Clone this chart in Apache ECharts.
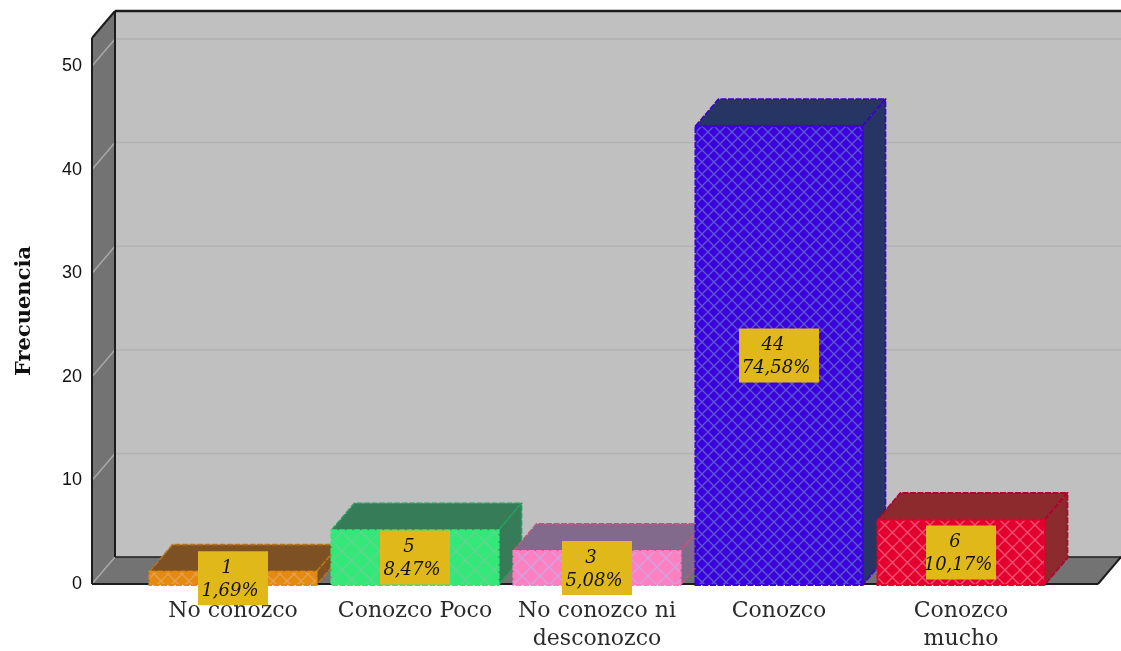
<!DOCTYPE html>
<html><head><meta charset="utf-8">
<style>html,body{margin:0;padding:0;background:#fff}#c{width:1121px;height:651px;filter:blur(0.45px)}</style>
<script src="https://cdn.jsdelivr.net/npm/echarts@6/dist/echarts.min.js"></script>
</head><body><div id="c"></div>
<script>
const categories = ['No conozco','Conozco Poco','No conozco ni\ndesconozco','Conozco','Conozco\nmucho'];
const frecuencias = [1,5,3,44,6];
const porcentajes = ['1,69%','8,47%','5,08%','74,58%','10,17%'];
const yTicks = [0,10,20,30,40,50];
const frontColors = ['#e38a10','#33e878','#ff80c0','#3c00e0','#e3002f'];
const hatchColors = ['#e8a050','#62d48e','#cfa2e0','#5a58c8','#ee5070'];
const edgeColors  = ['#b87418','#22a060','#b85a80','#3c00d0','#b00030'];
const topColors   = ['#7d5123','#377c58','#826a8c','#263563','#8c2a2e'];
const hatchPeriods = [14,19,18,12,15];
const labelBoxWidths = [70,70,70,80,70];

const DX = 23, DY = -27;      // depth of the 3D projection
const FRAME_L = 50, FRAME_R = 46; // frame overhang beyond the category band area
const BAR_RATIO = 0.918, BAR_LIFT = 2;

function hatch(bg, line, n){
  const t = document.createElement('canvas'); t.width = n; t.height = n;
  const g = t.getContext('2d');
  g.fillStyle = bg; g.fillRect(0,0,n,n);
  g.strokeStyle = line; g.lineWidth = 1.4;
  g.beginPath();
  g.moveTo(-1,-1); g.lineTo(n+1,n+1);
  g.moveTo(-1,n+1); g.lineTo(n+1,-1);
  g.stroke();
  return {image:t, repeat:'repeat'};
}
const fills = frontColors.map((c,i)=>hatch(c,hatchColors[i],hatchPeriods[i]));

function renderFrame(params, api){
  const cs = params.coordSys;
  const x0 = cs.x - FRAME_L, x1 = cs.x + cs.width + FRAME_R, yB = cs.y + cs.height, yT = cs.y;
  const poly = (pts,fill)=>({type:'polygon',shape:{points:pts},style:{fill,stroke:null}});
  const line = (a,b,stroke,w)=>({type:'line',shape:{x1:a[0],y1:a[1],x2:b[0],y2:b[1]},style:{stroke,lineWidth:w}});
  const ch = [];
  ch.push(poly([[x0+DX,yT+DY],[x1+DX,yT+DY],[x1+DX,yB+DY],[x0+DX,yB+DY]],'#c0c0c0'));
  ch.push(poly([[x0,yT],[x0+DX,yT+DY],[x0+DX,yB+DY],[x0,yB]],'#737373'));
  ch.push(poly([[x0,yB],[x0+DX,yB+DY],[x1+DX,yB+DY],[x1,yB]],'#737373'));
  yTicks.forEach(v=>{
    const y = api.coord([0,v])[1];
    if(v>0) ch.push(line([x0+DX,y+DY],[x1+DX,y+DY],'#b2b2b2',1.5));
    if(v>0) ch.push(line([x0,y],[x0+DX,y+DY],'#a8a8a8',1.5));
  });
  ch.push(line([x0,yB],[x0+DX,yB+DY],'#a8a8a8',1.5));
  const dark='#1c1c1c';
  ch.push(line([x0+DX,yB+DY],[x1+DX,yB+DY],dark,1.5));
  ch.push(line([x0+DX,yT+DY],[x1+DX,yT+DY],dark,2.5));
  ch.push(line([x0+DX,yT+DY],[x0+DX,yB+DY],dark,2));
  ch.push(line([x0,yT],[x0+DX,yT+DY],dark,2));
  ch.push(line([x0,yT],[x0,yB],dark,2));
  ch.push(line([x0,yB],[x1,yB],dark,2));
  ch.push(line([x1,yB],[x1+DX,yB+DY],dark,2));
  return {type:'group',children:ch};
}

function renderBar(params, api){
  const i = api.value(0), v = api.value(1);
  const p = api.coord([i,v]), b = api.coord([i,0]);
  const w = api.size([1,0])[0]*BAR_RATIO;
  const l = p[0]-w/2, r = p[0]+w/2, t = p[1]-BAR_LIFT, bt = b[1]+1;
  const edge = {stroke:edgeColors[i],lineWidth:1.6,lineDash:[6,1.5],lineJoin:'round'};
  const face = (pts,fill,st)=>({type:'polygon',shape:{points:pts},style:Object.assign({fill},st)});
  const cy = (t+bt)/2, bw = labelBoxWidths[i], bh = 54;
  const txt = (s,x,y)=>({type:'text',style:{text:s,x,y,align:'center',verticalAlign:'middle',
    font:'italic 18px "DejaVu Serif"',fill:'#111'}});
  return {type:'group',children:[
    face([[l,t],[l+DX,t+DY],[r+DX,t+DY],[r,t]],topColors[i],edge),
    face([[r,t],[r+DX,t+DY],[r+DX,bt+DY],[r,bt]],topColors[i],edge),
    face([[l,t],[r,t],[r,bt],[l,bt]],fills[i],{stroke:frontColors[i],lineWidth:2,lineDash:[6,1.5]}),
    {type:'rect',shape:{x:p[0]-bw/2,y:cy-bh/2,width:bw,height:bh},style:{fill:'#e0b81a'}},
    txt(String(v),p[0]-6,cy-10),
    txt(porcentajes[i],p[0]-3,cy+13)
  ]};
}

const chart = echarts.init(document.getElementById('c'),null,{renderer:'canvas'});
chart.setOption({
  animation:false,
  backgroundColor:'#fff',
  grid:{left:142,right:69,top:38,bottom:67,containLabel:false,outerBoundsMode:'none'},
  xAxis:{type:'category',data:categories,
    axisLine:{show:false},axisTick:{show:false},splitLine:{show:false},
    axisLabel:{interval:0,margin:13,color:'#2a2a2a',lineHeight:28,fontFamily:'"DejaVu Serif"',fontSize:22}},
  yAxis:{type:'value',min:0,max:52.7,interval:10,offset:50,
    name:'Frecuencia',nameLocation:'middle',nameGap:57,
    nameTextStyle:{fontFamily:'"DejaVu Serif"',fontWeight:'bold',fontSize:21,color:'#111'},
    axisLine:{show:false},axisTick:{show:false},splitLine:{show:false},
    axisLabel:{customValues:yTicks,margin:10,color:'#111',fontFamily:'"Liberation Sans"',fontSize:18}},
  series:[
    {type:'custom',silent:true,z:1,renderItem:renderFrame,data:[[0,0]],clip:false},
    {type:'custom',silent:true,z:3,renderItem:renderBar,clip:false,
     data:frecuencias.map((v,i)=>[i,v])}
  ]
});
</script></body></html>
